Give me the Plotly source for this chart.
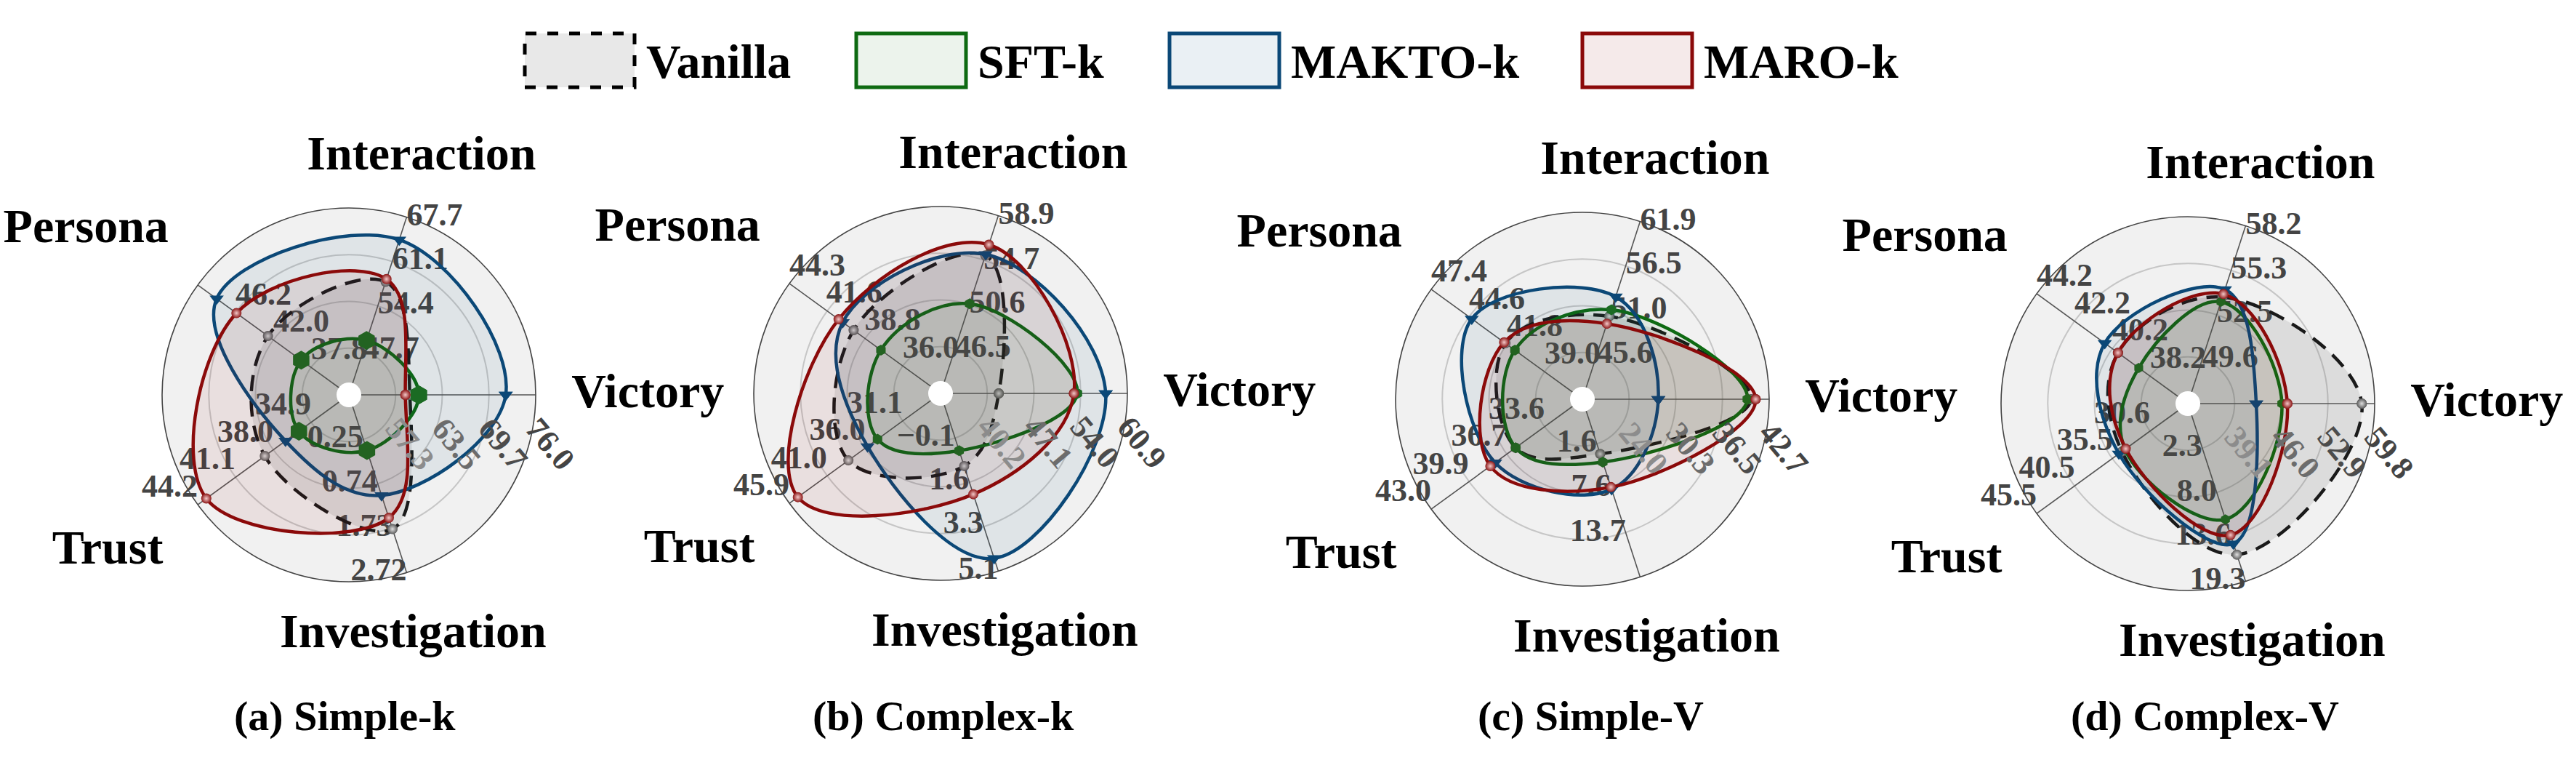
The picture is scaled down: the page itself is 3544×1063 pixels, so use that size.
import plotly.graph_objects as go

# ---------------- data ----------------
AXES = ["Victory", "Interaction", "Persona", "Trust", "Investigation"]
METHODS = ["Vanilla", "SFT-k", "MAKTO-k", "MARO-k"]
PANELS = ["(a) Simple-k", "(b) Complex-k", "(c) Simple-V", "(d) Complex-V"]

# per-axis tick values (order of AXES), 4 rings
TICKS_A = [[57.3, 63.5, 69.7, 76.0], [47.7, 54.4, 61.1, 67.7], [37.8, 42.0, 46.2, 50.4],
           [34.9, 38.0, 41.1, 44.2], [-0.25, 0.74, 1.73, 2.72]]
TICKS_B = [[40.2, 47.1, 54.0, 60.9], [46.5, 50.6, 54.7, 58.9], [36.0, 38.8, 41.6, 44.3],
           [31.1, 36.0, 41.0, 45.9], [-0.1, 1.6, 3.3, 5.1]]
TICKS_C = [[24.0, 30.3, 36.5, 42.7], [45.6, 51.0, 56.5, 61.9], [39.0, 41.8, 44.6, 47.4],
           [33.6, 36.7, 39.9, 43.0], [1.6, 7.6, 13.7, 19.7]]
TICKS_D = [[39.1, 46.0, 52.9, 59.8], [49.6, 52.5, 55.3, 58.2], [38.2, 40.2, 42.2, 44.2],
           [30.6, 35.5, 40.5, 45.5], [2.3, 8.0, 13.6, 19.3]]

# values (order of AXES)
VANILLA_A = [59.2, 58.0, 42.6, 38.7, 1.75]
SFT_A = [60.4, 49.2, 38.9, 35.9, 0.00]
MAKTO_A = [72.0, 64.3, 48.3, 37.0, 1.00]
MARO_A = [58.6, 58.4, 46.1, 43.5, 1.50]

VANILLA_B = [41.9, 55.2, 39.6, 38.2, 1.0]
SFT_B = [53.5, 50.7, 37.6, 34.4, 0.4]
MAKTO_B = [57.7, 55.3, 40.4, 35.7, 4.6]
MARO_B = [53.0, 56.2, 40.7, 44.8, 2.1]

VANILLA_C = [40.3, 50.3, 41.9, 36.0, 3.0]
SFT_C = [39.8, 51.1, 41.2, 36.0, 4.1]
MAKTO_C = [27.9, 52.7, 44.4, 37.7, 7.8]
MARO_C = [40.9, 49.4, 42.0, 38.1, 7.5]

VANILLA_D = [57.9, 53.6, 39.9, 34.3, 15.9]
SFT_D = [46.1, 53.3, 38.8, 33.9, 11.4]
MAKTO_D = [42.3, 54.1, 40.6, 34.7, 14.5]
MARO_D = [46.9, 53.8, 39.9, 33.8, 13.4]

TICKS = [TICKS_A, TICKS_B, TICKS_C, TICKS_D]
VALUES = [
    [VANILLA_A, SFT_A, MAKTO_A, MARO_A],
    [VANILLA_B, SFT_B, MAKTO_B, MARO_B],
    [VANILLA_C, SFT_C, MAKTO_C, MARO_C],
    [VANILLA_D, SFT_D, MAKTO_D, MARO_D],
]

# ---------------- style / layout ----------------
W, H = 3544, 1063
FONT = "Liberation Serif, Times New Roman, serif"
ANGLES = [0, 72, 144, 216, 288]
CENTERS = [(480, 543), (1294, 541), (2177, 549), (3010, 555)]
RAD = 257
OUTER = 1.75          # radius factor of the overlay subplot carrying axis names
CAPTION_X = [474, 1298, 2188, 3033]
CAPTION_Y = 984

LINE_COLORS = ["#1a1a1a", "#0e6a12", "#0b4877", "#8b0a0a"]
FILL_COLORS = ["rgba(110,110,110,0.16)", "rgba(20,110,20,0.08)",
               "rgba(11,72,119,0.08)", "rgba(139,10,10,0.08)"]
MARKER_SYMBOLS = ["circle", "hexagon", "triangle-down", "circle"]
MARKER_COLORS = ["#5a5a5a", "#1d6e1d", "#0b4877", "#8b1515"]
GRAD_COLORS = ["#e0e0e0", None, None, "#f3c9c9"]
SFT_SIZES = [26, 15, 15, 14]

LABEL_POS = [None, "middle right", "top right", "top left", "middle left"]
VIC_LABEL_COLORS = ["#8c8c8c", "#6c6c6c", "#4c4c4c", "#444444"]
NAME_R = [1.6, 1.33, 1.66, 1.54, 1.33]
NAME_T = [0, 73, 148, 213, 285]


def norm(v, t):
    step = (t[3] - t[0]) / 3.0
    c = t[0] - step
    return (v - c) / (4 * step)


def fmt(v):
    return str(v).replace("-", "\u2212")


fig = go.Figure()

for p in range(4):
    sub = "polar" if p == 0 else f"polar{p + 1}"
    over = f"polar{p + 5}"
    ticks = TICKS[p]

    # spokes
    sr, st = [], []
    for a in ANGLES:
        sr += [0, 1.06, None]
        st += [a, a, None]
    fig.add_trace(go.Scatterpolar(r=sr, theta=st, mode="lines", subplot=sub,
                                  line=dict(color="#555555", width=1.6),
                                  cliponaxis=False, hoverinfo="skip", showlegend=False))

    # tick labels along each axis (Victory labels are rotated annotations below)
    tr, tt, tx, tp = [], [], [], []
    for i, a in enumerate(ANGLES):
        if i == 0:
            continue
        for v in ticks[i]:
            tr.append(norm(v, ticks[i]))
            tt.append(a)
            tx.append(fmt(v))
            tp.append(LABEL_POS[i])
    fig.add_trace(go.Scatterpolar(r=tr, theta=tt, mode="text", text=tx, textposition=tp,
                                  subplot=sub, cliponaxis=False, hoverinfo="skip",
                                  textfont=dict(family=FONT, size=44, color="#444444",
                                                weight="bold"),
                                  showlegend=False))

    # data series
    for m in range(4):
        vals = VALUES[p][m]
        r = [norm(v, ticks[i]) for i, v in enumerate(vals)]
        r = r + [r[0]]
        th = ANGLES + [ANGLES[0]]
        size = SFT_SIZES[p] if m == 1 else (17 if m == 2 else 14)
        marker = dict(symbol=MARKER_SYMBOLS[m], size=size, color=MARKER_COLORS[m],
                      line=dict(width=0))
        if GRAD_COLORS[m]:
            marker["gradient"] = dict(type="radial", color=GRAD_COLORS[m])
        fig.add_trace(go.Scatterpolar(
            r=r, theta=th, mode="lines+markers", subplot=sub, name=METHODS[m],
            fill="toself", fillcolor=FILL_COLORS[m],
            line=dict(color=LINE_COLORS[m], width=4.5, shape="spline", smoothing=1.1,
                      dash="22px,13px" if m == 0 else "solid"),
            marker=marker, cliponaxis=False, showlegend=False, hoverinfo="skip"))

    # white centre dot
    fig.add_trace(go.Scatterpolar(r=[0], theta=[0], mode="markers", subplot=sub,
                                  marker=dict(size=34, color="white", line=dict(width=0)),
                                  hoverinfo="skip", showlegend=False))

    # axis names (in a larger transparent overlay polar sharing the same centre/scale)
    fig.add_trace(go.Scatterpolar(r=NAME_R, theta=NAME_T, mode="text", text=AXES,
                                  textposition="middle center", subplot=over,
                                  cliponaxis=False, hoverinfo="skip", showlegend=False,
                                  textfont=dict(family=FONT, size=66, color="black",
                                                weight="bold")))

layout = dict(width=W, height=H, margin=dict(l=0, r=0, t=0, b=0),
              paper_bgcolor="white", plot_bgcolor="white", showlegend=False)

for p in range(4):
    cx, cy = CENTERS[p]
    key = "polar" if p == 0 else f"polar{p + 1}"
    layout[key] = dict(
        domain=dict(x=[(cx - RAD) / W, (cx + RAD) / W],
                    y=[1 - (cy + RAD) / H, 1 - (cy - RAD) / H]),
        bgcolor="#f1f1f1",
        radialaxis=dict(range=[0, 1], tickvals=[0.25, 0.5, 0.75], showticklabels=False,
                        ticks="", showline=False, gridcolor="#c6c6c6", gridwidth=2),
        angularaxis=dict(rotation=0, direction="counterclockwise", showticklabels=False,
                         ticks="", showgrid=False, showline=True, linecolor="#444444",
                         linewidth=1.6),
    )
    ro = RAD * OUTER
    layout[f"polar{p + 5}"] = dict(
        domain=dict(x=[(cx - ro) / W, (cx + ro) / W],
                    y=[1 - (cy + ro) / H, 1 - (cy - ro) / H]),
        bgcolor="rgba(0,0,0,0)",
        radialaxis=dict(range=[0, OUTER], visible=False, showgrid=False),
        angularaxis=dict(rotation=0, direction="counterclockwise", visible=False,
                         showgrid=False, showline=False, showticklabels=False, ticks=""),
    )

fig.update_layout(**layout)

# rotated Victory tick labels
for p in range(4):
    cx, cy = CENTERS[p]
    t = TICKS[p][0]
    for k, v in enumerate(t):
        px = cx + norm(v, t) * RAD + 20
        fig.add_annotation(x=px / W, y=1 - (cy + 67) / H, xref="paper", yref="paper",
                           text=fmt(v), showarrow=False, textangle=50,
                           xanchor="center", yanchor="middle",
                           font=dict(family=FONT, size=44, color=VIC_LABEL_COLORS[k],
                                     weight="bold"))

# captions
for p in range(4):
    fig.add_annotation(x=CAPTION_X[p] / W, y=1 - CAPTION_Y / H, xref="paper", yref="paper",
                       text=PANELS[p], showarrow=False, xanchor="center", yanchor="middle",
                       font=dict(family=FONT, size=58, color="black", weight="bold"))

# legend (drawn manually)
LEG_BOX_X = [722, 1178, 1609, 2177]
LEG_BOX_W = 151
LEG_Y0, LEG_Y1 = 46, 120
LEG_FILLS = ["#e8e8e8", "#ecf3ec", "#eaf0f4", "#f5eaea"]
for m in range(4):
    x0 = LEG_BOX_X[m]
    fig.add_shape(type="rect", xref="paper", yref="paper",
                  x0=x0 / W, x1=(x0 + LEG_BOX_W) / W,
                  y0=1 - LEG_Y1 / H, y1=1 - LEG_Y0 / H,
                  fillcolor=LEG_FILLS[m],
                  line=dict(color=LINE_COLORS[m] if m else "black", width=5,
                            dash="dash" if m == 0 else "solid"))
    fig.add_annotation(x=(x0 + LEG_BOX_W + 14) / W, y=1 - 84 / H, xref="paper", yref="paper",
                       text=METHODS[m], showarrow=False, xanchor="left", yanchor="middle",
                       font=dict(family=FONT, size=66, color="black", weight="bold"))

fig.write_html("out.html", config={"displayModeBar": False},
               post_script="document.body.style.margin='0';document.body.style.overflow='hidden';")
